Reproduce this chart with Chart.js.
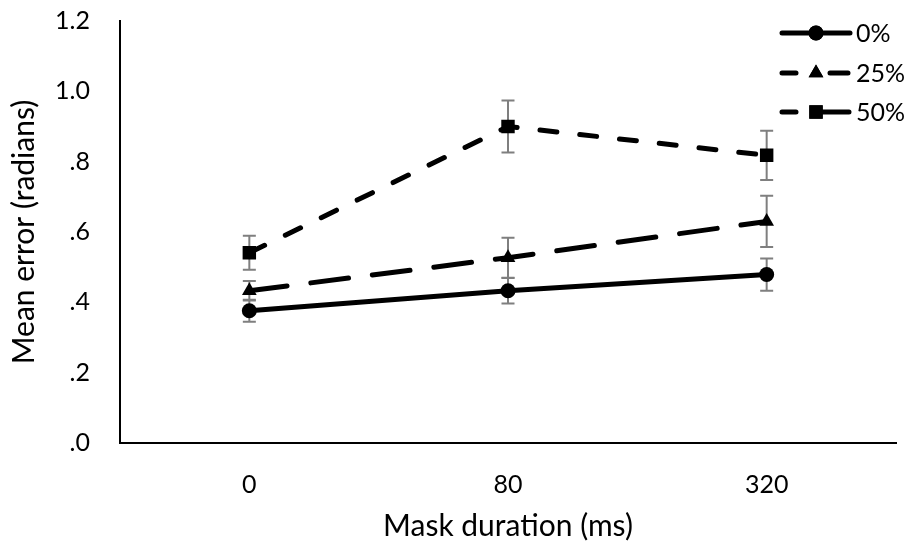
<!DOCTYPE html>
<html>
<head>
<meta charset="utf-8">
<script src="https://cdn.jsdelivr.net/npm/chart.js@4.4.0/dist/chart.umd.min.js"></script>
<style>
  html, body { margin: 0; padding: 0; background: #fff; }
  #wrap { width: 915px; height: 548px; }
</style>
</head>
<body>
<div id="wrap"><canvas id="c" width="915" height="548"></canvas></div>
<script>
const categories = ["0", "80", "320"];
const seriesNames = ["0%", "25%", "50%"];
const values0 = [0.376, 0.433, 0.479];
const values25 = [0.433, 0.527, 0.630];
const values50 = [0.541, 0.900, 0.818];
const err0 = [0.031, 0.036, 0.046];
const err25 = [0.028, 0.057, 0.073];
const err50 = [0.048, 0.074, 0.070];
const yTickValues = [0, 0.2, 0.4, 0.6, 0.8, 1.0, 1.2];
const yTickLabels = [".0", ".2", ".4", ".6", ".8", "1.0", "1.2"];

const FONT = "Lato, 'Open Sans', sans-serif";
const errors = [err0, err25, err50];

const errorBarPlugin = {
  id: 'errorBars',
  beforeDatasetsDraw(chart) {
    const ctx = chart.ctx;
    const y = chart.scales.y;
    ctx.save();
    ctx.strokeStyle = '#7f7f7f';
    ctx.lineWidth = 2;
    chart.data.datasets.forEach((ds, di) => {
      const meta = chart.getDatasetMeta(di);
      meta.data.forEach((pt, i) => {
        const v = ds.data[i], e = errors[di][i];
        const yt = y.getPixelForValue(v + e), yb = y.getPixelForValue(v - e);
        const x = pt.x;
        ctx.beginPath();
        ctx.moveTo(x, yt); ctx.lineTo(x, yb);
        ctx.moveTo(x - 6.5, yt); ctx.lineTo(x + 6.5, yt);
        ctx.moveTo(x - 6.5, yb); ctx.lineTo(x + 6.5, yb);
        ctx.stroke();
      });
    });
    ctx.restore();
  }
};

const legendPlugin = {
  id: 'customLegend',
  afterDraw(chart) {
    const ctx = chart.ctx;
    const rows = [33, 73, 112];
    ctx.save();
    chart.data.datasets.forEach((ds, di) => {
      const yy = rows[di];
      ctx.strokeStyle = '#000';
      ctx.lineWidth = 5;
      ctx.lineCap = 'round';
      ctx.setLineDash([]);
      ctx.beginPath();
      if (di === 0) {
        ctx.moveTo(782, yy); ctx.lineTo(850, yy);
      } else if (di === 1) {
        ctx.moveTo(782, yy); ctx.lineTo(796, yy);
        ctx.moveTo(830, yy); ctx.lineTo(848, yy);
      } else {
        ctx.moveTo(782, yy); ctx.lineTo(796, yy);
        ctx.moveTo(822, yy); ctx.lineTo(849, yy);
      }
      ctx.stroke();
      Chart.helpers.drawPoint(ctx, {
        pointStyle: ds.pointStyle, radius: ds.pointRadius, borderWidth: 0, rotation: 0
      }, 816, yy);
      ctx.fillStyle = '#000';
      ctx.fill();
      ctx.font = "25px " + FONT;
      ctx.textBaseline = 'middle';
      ctx.textAlign = 'left';
      ctx.fillText(seriesNames[di], 856, yy + 1);
    });
    ctx.restore();
  }
};

const common = {
  borderColor: '#000', backgroundColor: '#000',
  pointBackgroundColor: '#000', pointBorderColor: '#000',
  borderWidth: 5, pointBorderWidth: 0, fill: false, tension: 0,
  borderCapStyle: 'round'
};

new Chart(document.getElementById('c'), {
  type: 'line',
  data: {
    labels: categories,
    datasets: [
      Object.assign({}, common, { label: seriesNames[0], data: values0, pointStyle: 'circle', pointRadius: 7.5 }),
      Object.assign({}, common, { label: seriesNames[1], data: values25, pointStyle: 'triangle', pointRadius: 8.5, borderDash: [38, 24] }),
      Object.assign({}, common, { label: seriesNames[2], data: values50, pointStyle: 'rect', pointRadius: 9.5, borderDash: [17, 23] })
    ]
  },
  options: {
    responsive: false,
    animation: false,
    devicePixelRatio: 1,
    layout: { padding: { top: 21, right: 19, left: 0, bottom: 0 } },
    plugins: { legend: { display: false }, tooltip: { enabled: false } },
    scales: {
      x: {
        type: 'category',
        offset: true,
        grid: { display: true, drawOnChartArea: false, drawTicks: false },
        border: { display: true, color: '#000', width: 2 },
        ticks: { color: '#000', font: { family: FONT, size: 25 }, padding: 27 },
        title: { display: true, text: 'Mask duration (ms)', color: '#000', font: { family: FONT, size: 30 }, padding: { top: 4, bottom: 4 } },
        afterFit(s) { s.height = 548 - 443; s.paddingLeft = 0; s.paddingRight = 0; }
      },
      y: {
        min: 0, max: 1.2,
        afterBuildTicks(s) { s.ticks = yTickValues.map(v => ({ value: v })); },
        grid: { display: true, drawOnChartArea: false, drawTicks: false },
        border: { display: true, color: '#000', width: 2 },
        ticks: {
          color: '#000', font: { family: FONT, size: 25 }, padding: 30,
          callback(v) { const i = yTickValues.findIndex(t => Math.abs(t - v) < 1e-6); return i >= 0 ? yTickLabels[i] : ''; }
        },
        title: { display: true, text: 'Mean error (radians)', color: '#000', font: { family: FONT, size: 30 }, padding: { top: 6, bottom: 4 } },
        afterFit(s) { s.width = 120; s.paddingTop = 0; s.paddingBottom = 0; }
      }
    }
  },
  plugins: [errorBarPlugin, legendPlugin]
});
</script>
</body>
</html>
